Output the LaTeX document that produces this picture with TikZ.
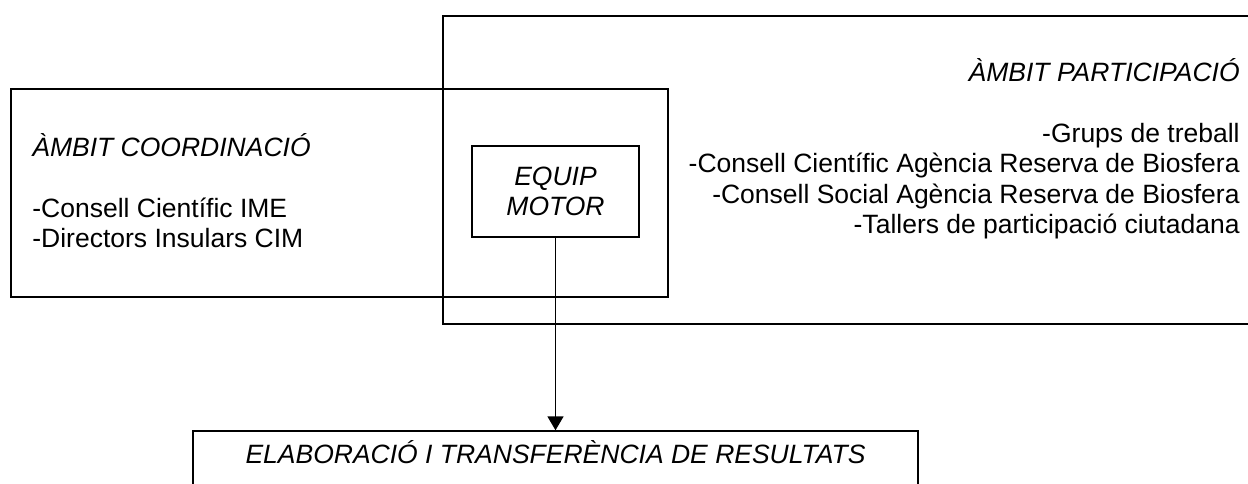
\documentclass[tikz,border=0pt]{standalone}
\usepackage{fontspec}
\setmainfont{Liberation Sans}
\usetikzlibrary{arrows.meta,positioning,fit}

\begin{document}
\begin{tikzpicture}[
    x=0.5pt, y=-0.5pt,
    font=\fontsize{13.25}{15.25}\selectfont,
    frame/.style={rectangle, draw=black, line width=0.7pt, inner sep=0pt},
    motor/.style={rectangle, draw=black, line width=0.7pt, align=center, font=\fontsize{13.25}{15.25}\selectfont\itshape, minimum width=83.5pt, minimum height=45.5pt},
    block/.style={inner sep=0pt},
    arrow/.style={-{Triangle[length=7pt, width=8pt]}, line width=0.8pt},
]
\useasboundingbox (0,0) rectangle (1248,483);

% Frames
\node[frame, fit={(443,16) (1300,324)}] (particip) {};
\node[frame, fit={(11,89) (668,297)}] (coord) {};
\node[motor] (equip) at (555.5,191.5) {EQUIP\\MOTOR};
\node[frame, fit={(193,431) (918,540)}] (results) {};

% Texts (base anchor sits on the last line)
\node[block, anchor=base east, align=right] (partictext) at (1240,233.5) {%
    \textit{ÀMBIT PARTICIPACIÓ}\\[15.25pt]
    -Grups de treball\\
    -Consell Científic Agència Reserva de Biosfera\\
    -Consell Social Agència Reserva de Biosfera\\
    -Tallers de participació ciutadana};
\node[block, anchor=base west, align=left] (coordtext) at (32,247.5) {%
    \textit{ÀMBIT COORDINACIÓ}\\[15.25pt]
    -Consell Científic IME\\
    -Directors Insulars CIM};
\node[block, anchor=base, font=\fontsize{13.25}{15.25}\selectfont\itshape] (resultstext) at (555.5,463) {ELABORACIÓ I TRANSFERÈNCIA DE RESULTATS};

% Arrow
\draw[arrow] (equip.south) -- (results.north);

\end{tikzpicture}
\end{document}
